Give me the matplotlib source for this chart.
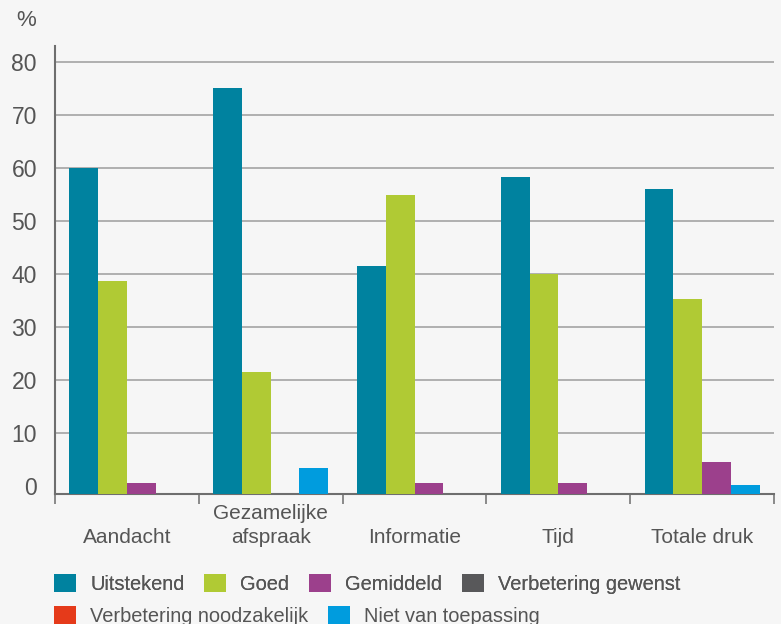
import numpy as np
import matplotlib.pyplot as plt
from matplotlib.patches import Patch
from matplotlib.transforms import blended_transform_factory

plt.rcParams['font.family'] = ['Liberation Sans', 'DejaVu Sans']

categories = ["Aandacht", "Gezamelijke\nafspraak", "Informatie", "Tijd", "Totale druk"]
series = ["Uitstekend", "Goed", "Gemiddeld", "Verbetering gewenst",
          "Verbetering noodzakelijk", "Niet van toepassing"]
uitstekend = [60.0, 75.2, 41.5, 58.3, 56.1]
goed = [38.7, 21.5, 54.9, 40.0, 35.3]
gemiddeld = [0.6, 0.0, 0.6, 0.6, 4.5]
verbetering_gewenst = [0.0, 0.0, 0.0, 0.0, 0.0]
verbetering_noodzakelijk = [0.0, 0.0, 0.0, 0.0, 0.0]
niet_van_toepassing = [0.0, 3.4, 0.0, 0.0, 0.2]
yticks = [0, 10, 20, 30, 40, 50, 60, 70, 80]

values = [uitstekend, goed, gemiddeld, verbetering_gewenst,
          verbetering_noodzakelijk, niet_van_toepassing]
colors = ["#00829f", "#b0ca34", "#9c408c", "#58585a", "#e53a1a", "#009cde"]

BG = "#f6f6f6"
TXT = "#555555"
AX = "#6e6e6e"
base = -1.57  # axis sits a bit below the 0 line

fig = plt.figure(figsize=(7.81, 6.24), dpi=100, facecolor=BG)
ax = fig.add_axes([55 / 781, 1 - 494 / 624, (774 - 55) / 781, (494 - 45.7) / 624])
ax.set_facecolor(BG)

x = np.arange(len(categories))
# only series that have a value get a slot in the group
active = [i for i, v in enumerate(values) if any(v)]
width = 0.2
for k, i in enumerate(active):
    v = np.array(values[i])
    off = (k - (len(active) - 1) / 2) * width
    h = np.where(v > 0, v - base, 0)
    ax.bar(x + off, h, width=width, bottom=base, color=colors[i], linewidth=0, zorder=3)

# gridlines (not at 0)
for t in yticks[1:]:
    ax.axhline(t, color="#b0b0b0", lw=1.4, zorder=1)

ax.set_xlim(-0.5, len(categories) - 0.5)
ax.set_ylim(base, 83.1)
ax.set_yticks(yticks)
ax.set_yticklabels([str(t) for t in yticks])
ax.tick_params(axis='y', length=0, pad=13, labelsize=16.5, labelcolor=TXT)

ax.set_xticks(np.arange(-0.5, len(categories)))
ax.set_xticklabels([])
ax.tick_params(axis='x', direction='out', length=7, width=1.2, color="#777777")

for s in ["top", "right"]:
    ax.spines[s].set_visible(False)
for s in ["left", "bottom"]:
    ax.spines[s].set_color(AX)
    ax.spines[s].set_linewidth(1.5)

trans = blended_transform_factory(ax.transData, fig.transFigure)
for i, cat in enumerate(categories):
    ax.text(i, 1 - 547.4 / 624, cat, transform=trans, ha='center', va='bottom',
            fontsize=15, color=TXT, linespacing=1.35)

fig.text(26 / 781, 1 - 21 / 624, "%", ha='center', va='center', fontsize=16, color=TXT)

handles = [Patch(facecolor=c, edgecolor='none') for c in colors]
leg_kw = dict(frameon=False, fontsize=14.4, handlelength=1.08, handleheight=0.95,
              handletextpad=0.72, columnspacing=1.0, borderpad=0, borderaxespad=0,
              labelcolor=TXT, loc='center left')
leg1 = fig.legend(handles[:4], series[:4], ncol=4,
                  bbox_to_anchor=(54 / 781, 1 - 584 / 624), **leg_kw)
fig.add_artist(leg1)
fig.legend(handles[4:], series[4:], ncol=2,
           bbox_to_anchor=(54 / 781, 1 - 616 / 624), **leg_kw)

fig.savefig("out.png", dpi=100, facecolor=BG)
